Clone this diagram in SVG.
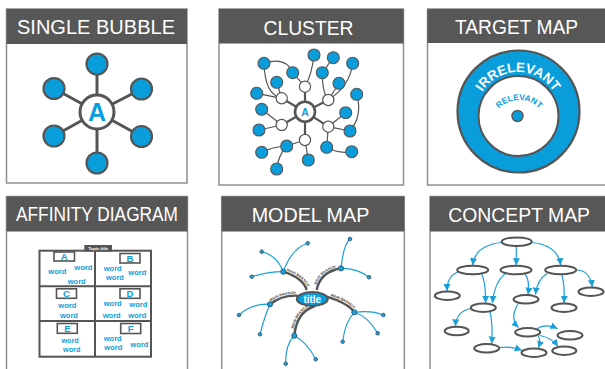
<svg xmlns="http://www.w3.org/2000/svg" width="605" height="369" viewBox="0 0 605 369">
<style>
.panel{fill:#fff;stroke:#8f8f8f;stroke-width:1.5}
.hdr{fill:#575757}
.htxt{font-family:"Liberation Sans",Arial,sans-serif;font-size:20px;fill:#fff}
.ln{stroke:#555;fill:none}
.blue{fill:#0a9ddb;stroke:#555}
.wht{fill:#fff;stroke:#555}
.word{font-family:"Liberation Sans",Arial,sans-serif;font-weight:bold;font-size:7.5px;fill:#0a9ddb;text-anchor:middle}
.lbox{fill:#fff;stroke:#555;stroke-width:1.6}
.let{font-family:"Liberation Sans",Arial,sans-serif;font-weight:bold;font-size:9.5px;fill:#0a9ddb;text-anchor:middle}
.sub{stroke:#1a9fd9;stroke-width:1.2;fill:none}
.dot{fill:#1a9fd9;stroke:#2b4f66;stroke-width:0.8}
.br{stroke:#555;stroke-width:2.4;fill:none}
.brl{font-family:"Liberation Sans",Arial,sans-serif;font-weight:bold;font-size:3.6px;fill:#444}
.ell{fill:#fff;stroke:#555;stroke-width:2}
.arr{stroke:#1a9fd9;stroke-width:1.2;fill:none;marker-end:url(#ah)}
</style>
<defs>
<marker id="ah" markerUnits="userSpaceOnUse" markerWidth="8" markerHeight="8" refX="7" refY="4" orient="auto"><path d="M0,0.5 L7,4 L0,7.5 Z" fill="#1a9fd9"/></marker>
<path id="arcIrr" d="M476,114 A42 42 0 0 1 560,114"/>
<path id="arcRel" d="M491,128 A28 28 0 0 1 547,128"/>
<path id="b1p" d="M283.3,271.7 Q303,278 306.7,290"/>
<path id="b2p" d="M316.7,290 Q320,272 341,268.3"/>
<path id="b3p" d="M270,304.3 Q281.7,295 297.7,295.7"/>
<path id="b4p" d="M326.7,296.7 Q348.3,303.3 354.3,312.3"/>
<path id="b5p" d="M294.3,335.7 Q296.7,311.7 315,306"/>
</defs>

<!-- Panel 1: Single bubble -->
<g id="panel-single-bubble">
<rect class="panel" x="6.5" y="9" width="180.5" height="174"/>
<rect class="hdr" x="6.5" y="9" width="180.5" height="35"/>
<text class="htxt" x="17" y="33.5" textLength="158" lengthAdjust="spacingAndGlyphs">SINGLE BUBBLE</text>
<g id="sb-connectors" class="ln" stroke-width="3">
<line x1="97" y1="112" x2="97" y2="64"/>
<line x1="97" y1="112" x2="97" y2="163"/>
<line x1="97" y1="112" x2="54" y2="88.5"/>
<line x1="97" y1="112" x2="141.5" y2="89"/>
<line x1="97" y1="112" x2="54" y2="136"/>
<line x1="97" y1="112" x2="141.5" y2="136.5"/>
</g>
<g id="sb-center"><circle class="wht" cx="97" cy="112" r="17" stroke-width="3"/>
<text x="97" y="121" font-family="Liberation Sans,Arial,sans-serif" font-weight="bold" font-size="25" fill="#0a9ddb" text-anchor="middle">A</text></g>
<g id="sb-outer" stroke-width="2.2">
<circle class="blue" cx="97" cy="64" r="10.5"/>
<circle class="blue" cx="97" cy="163" r="10.5"/>
<circle class="blue" cx="54" cy="88.5" r="10.5"/>
<circle class="blue" cx="141.5" cy="89" r="10.5"/>
<circle class="blue" cx="54" cy="136" r="10.5"/>
<circle class="blue" cx="141.5" cy="136.5" r="10.5"/>
</g>
</g>

<!-- Panel 2: Cluster -->
<g id="panel-cluster">
<rect class="panel" x="219" y="9" width="184.5" height="176"/>
<rect class="hdr" x="219" y="9" width="184.5" height="34.5"/>
<text class="htxt" x="263.5" y="35" textLength="90" lengthAdjust="spacingAndGlyphs">CLUSTER</text>
<g id="cl-connectors" class="ln">
<g stroke-width="2.2">
<line x1="305" y1="111.7" x2="305" y2="86.7"/>
<line x1="305" y1="111.7" x2="328.3" y2="100"/>
<line x1="305" y1="111.7" x2="328.3" y2="126.7"/>
<line x1="305" y1="111.7" x2="305" y2="140"/>
<line x1="305" y1="111.7" x2="281.7" y2="125"/>
<line x1="305" y1="111.7" x2="281.7" y2="98.3"/>
</g>
<g stroke-width="1.2">
<line x1="305" y1="86.7" x2="292.7" y2="72.7"/>
<path d="M305,86.7 Q312,74 314,55"/>
<path d="M264,63.3 Q265,95 281.7,98.3"/>
<path d="M264,63.3 Q286,56 292.7,72.7"/>
<line x1="281.7" y1="98.3" x2="276.7" y2="82.3"/>
<line x1="281.7" y1="98.3" x2="256.7" y2="93.3"/>
<line x1="322.3" y1="72.7" x2="333.3" y2="57.7"/>
<path d="M322.3,72.7 Q322,92 328.3,100"/>
<line x1="328.3" y1="100" x2="339" y2="83.3"/>
<path d="M352.7,63.3 Q350,86 328.3,100"/>
<path d="M356.7,94.3 Q363,115 350,131"/>
<line x1="328.3" y1="126.7" x2="345.7" y2="112.7"/>
<line x1="328.3" y1="126.7" x2="350" y2="131"/>
<line x1="328.3" y1="126.7" x2="326.7" y2="147.3"/>
<path d="M326.7,147.3 Q338,154 351.7,151.7"/>
<line x1="281.7" y1="125" x2="261.7" y2="109.3"/>
<line x1="281.7" y1="125" x2="259" y2="130"/>
<line x1="305" y1="140" x2="286.7" y2="146"/>
<line x1="305" y1="140" x2="308.3" y2="160"/>
<path d="M286.7,146 Q272,147 261.7,152.3"/>
<path d="M286.7,146 Q278,156 276.7,169"/>
</g>
</g>
<g id="cl-center"><circle class="wht" cx="305" cy="111.7" r="10" stroke-width="2.6"/>
<text x="305" y="115.5" font-family="Liberation Sans,Arial,sans-serif" font-weight="bold" font-size="10.5" fill="#0a9ddb" text-anchor="middle">A</text></g>
<g id="cl-sub" stroke-width="1.2">
<circle class="wht" cx="305" cy="86.7" r="5.6"/>
<circle class="wht" cx="328.3" cy="100" r="5.6"/>
<circle class="wht" cx="328.3" cy="126.7" r="5.6"/>
<circle class="wht" cx="305" cy="140" r="5.6"/>
<circle class="wht" cx="281.7" cy="125" r="5.6"/>
<circle class="wht" cx="281.7" cy="98.3" r="5.6"/>
</g>
<g id="cl-leaves" stroke-width="1.1">
<circle class="blue" cx="264" cy="63.3" r="6"/>
<circle class="blue" cx="292.7" cy="72.7" r="6"/>
<circle class="blue" cx="314" cy="55" r="6"/>
<circle class="blue" cx="333.3" cy="57.7" r="6"/>
<circle class="blue" cx="352.7" cy="63.3" r="6"/>
<circle class="blue" cx="322.3" cy="72.7" r="6"/>
<circle class="blue" cx="276.7" cy="82.3" r="6"/>
<circle class="blue" cx="339" cy="83.3" r="6"/>
<circle class="blue" cx="256.7" cy="93.3" r="6"/>
<circle class="blue" cx="356.7" cy="94.3" r="6"/>
<circle class="blue" cx="261.7" cy="109.3" r="6"/>
<circle class="blue" cx="345.7" cy="112.7" r="6"/>
<circle class="blue" cx="259" cy="130" r="6"/>
<circle class="blue" cx="350" cy="131" r="6"/>
<circle class="blue" cx="286.7" cy="146" r="6"/>
<circle class="blue" cx="326.7" cy="147.3" r="6"/>
<circle class="blue" cx="261.7" cy="152.3" r="6"/>
<circle class="blue" cx="308.3" cy="160" r="6"/>
<circle class="blue" cx="351.7" cy="151.7" r="6"/>
<circle class="blue" cx="276.7" cy="169" r="6"/>
</g>
</g>

<!-- Panel 3: Target map -->
<g id="panel-target-map">
<rect class="panel" x="427.5" y="9" width="200" height="176"/>
<rect class="hdr" x="427.5" y="9" width="200" height="34"/>
<text class="htxt" x="455" y="33.5" textLength="123" lengthAdjust="spacingAndGlyphs">TARGET MAP</text>
<g id="tm-outer"><circle cx="518.5" cy="111.5" r="61" fill="#0a9ddb" stroke="#555" stroke-width="2.2"/></g>
<g id="tm-inner"><circle cx="518.5" cy="116" r="40" fill="#fff" stroke="#555" stroke-width="2"/></g>
<text font-family="Liberation Sans,Arial,sans-serif" font-weight="bold" font-size="13.5" fill="#fff"><textPath href="#arcIrr" startOffset="50%" text-anchor="middle">IRRELEVANT</textPath></text>
<text font-family="Liberation Sans,Arial,sans-serif" font-weight="bold" font-size="8.5" fill="#0a9ddb"><textPath href="#arcRel" startOffset="50%" text-anchor="middle">RELEVANT</textPath></text>
<g id="tm-center"><circle cx="517.5" cy="116" r="5.5" fill="#0a9ddb" stroke="#555" stroke-width="1.4"/></g>
</g>

<!-- Panel 4: Affinity diagram -->
<g id="panel-affinity">
<rect class="panel" x="6.5" y="196.5" width="181" height="185"/>
<rect class="hdr" x="6.5" y="196.5" width="181" height="35"/>
<text class="htxt" x="16" y="220.7" textLength="162" lengthAdjust="spacingAndGlyphs">AFFINITY DIAGRAM</text>
<g id="af-grid" class="ln" stroke-width="2">
<rect x="39.5" y="250.7" width="111.5" height="106"/>
<line x1="95" y1="250.7" x2="95" y2="356.7"/>
<line x1="39.5" y1="286.3" x2="151" y2="286.3"/>
<line x1="39.5" y1="321" x2="151" y2="321"/>
</g>
<g id="af-topic"><rect x="84.3" y="245" width="27.7" height="6.5" fill="#555"/>
<text x="98.2" y="249.9" font-family="Liberation Sans,Arial,sans-serif" font-weight="bold" font-size="4.3" fill="#fff" text-anchor="middle">Topic title</text></g>
<g id="af-A"><rect class="lbox" x="54" y="252" width="20.5" height="9"/><text class="let" x="64.2" y="259.9">A</text>
<text class="word" x="57.3" y="274.2">word</text><text class="word" x="83.3" y="269.8">word</text><text class="word" x="76.7" y="283.5">word</text></g>
<g id="af-B"><rect class="lbox" x="120" y="253.5" width="20" height="9.5"/><text class="let" x="130" y="261.6">B</text>
<text class="word" x="112.7" y="270.8">word</text><text class="word" x="115" y="279.8">word</text><text class="word" x="137.3" y="274.8">word</text></g>
<g id="af-C"><rect class="lbox" x="56.5" y="288.8" width="20" height="9.5"/><text class="let" x="66.5" y="296.9">C</text>
<text class="word" x="67.3" y="307.5">word</text><text class="word" x="69" y="317.8">word</text></g>
<g id="af-D"><rect class="lbox" x="120" y="288.8" width="20" height="9.5"/><text class="let" x="130" y="296.9">D</text>
<text class="word" x="112.7" y="305.8">word</text><text class="word" x="138.3" y="306.8">word</text><text class="word" x="111.7" y="317.8">word</text><text class="word" x="137.3" y="317.8">word</text></g>
<g id="af-E"><rect class="lbox" x="57.3" y="323.5" width="20" height="9.8"/><text class="let" x="67.3" y="331.8">E</text>
<text class="word" x="70" y="343" style="font-size:7.2px">word</text><text class="word" x="71.7" y="351.8" style="font-size:7.2px">word</text></g>
<g id="af-F"><rect class="lbox" x="120.7" y="323.5" width="20" height="10"/><text class="let" x="130.7" y="331.9">F</text>
<text class="word" x="112.7" y="341.3">word</text><text class="word" x="113.3" y="350">word</text><text class="word" x="139.3" y="346.8">word</text></g>
</g>

<!-- Panel 5: Model map -->
<g id="panel-model-map">
<rect class="panel" x="221.7" y="196.5" width="182.6" height="185"/>
<rect class="hdr" x="221.7" y="196.5" width="182.6" height="35"/>
<text class="htxt" x="251.7" y="222.3" textLength="117.6" lengthAdjust="spacingAndGlyphs">MODEL MAP</text>
<g id="mm-connectors">
<g class="sub">
<path d="M283.3,271.7 Q276.7,255 261.7,251.7"/>
<path d="M283.3,271.7 Q291.7,248.3 307.7,243.3"/>
<path d="M283.3,271.7 Q268.3,271.7 251.7,276.7"/>
<path d="M341,268.3 Q343.3,245 350,239"/>
<path d="M341,268.3 Q358.3,268.3 369,277.3"/>
<path d="M270,304.3 Q251.7,303.3 239,315"/>
<path d="M270,304.3 Q265,315 260,334.3"/>
<path d="M354.3,312.3 Q371.7,310 383.3,315"/>
<path d="M354.3,312.3 Q368.3,316.7 377.7,333.3"/>
<path d="M354.3,312.3 Q345,321.7 342.7,341.7"/>
<path d="M294.3,335.7 Q285,345 285.7,363.7"/>
<path d="M294.3,335.7 Q306.7,341.7 315.7,359.3"/>
</g>
<use href="#b1p" class="br"/>
<use href="#b2p" class="br"/>
<use href="#b3p" class="br"/>
<use href="#b4p" class="br"/>
<use href="#b5p" class="br"/>
<text class="brl" dy="-1.8"><textPath href="#b1p" startOffset="50%" text-anchor="middle">MAIN BRANCH</textPath></text>
<text class="brl" dy="-1.8"><textPath href="#b2p" startOffset="50%" text-anchor="middle">MAIN BRANCH</textPath></text>
<text class="brl" dy="-1.8"><textPath href="#b3p" startOffset="50%" text-anchor="middle">MAIN BRANCH</textPath></text>
<text class="brl" dy="-1.8"><textPath href="#b4p" startOffset="50%" text-anchor="middle">MAIN BRANCH</textPath></text>
<text class="brl" dy="-1.8"><textPath href="#b5p" startOffset="50%" text-anchor="middle">MAIN BRANCH</textPath></text>
</g>
<g id="mm-title"><ellipse cx="312.3" cy="299" rx="15.5" ry="7" fill="#0a9ddb" stroke="#555" stroke-width="2"/>
<text x="312.3" y="302.6" font-family="Liberation Sans,Arial,sans-serif" font-weight="bold" font-size="10" fill="#fff" text-anchor="middle">title</text></g>
<g id="mm-nodes">
<circle class="dot" cx="283.3" cy="271.7" r="2.6"/>
<circle class="dot" cx="341" cy="268.3" r="2.6"/>
<circle class="dot" cx="270" cy="304.3" r="2.6"/>
<circle class="dot" cx="354.3" cy="312.3" r="2.6"/>
<circle class="dot" cx="294.3" cy="335.7" r="2.6"/>
<circle class="dot" cx="261.7" cy="251.7" r="1.8"/>
<circle class="dot" cx="307.7" cy="243.3" r="1.8"/>
<circle class="dot" cx="251.7" cy="276.7" r="1.8"/>
<circle class="dot" cx="350" cy="239" r="1.8"/>
<circle class="dot" cx="369" cy="277.3" r="1.8"/>
<circle class="dot" cx="239" cy="315" r="1.8"/>
<circle class="dot" cx="260" cy="334.3" r="1.8"/>
<circle class="dot" cx="383.3" cy="315" r="1.8"/>
<circle class="dot" cx="377.7" cy="333.3" r="1.8"/>
<circle class="dot" cx="342.7" cy="341.7" r="1.8"/>
<circle class="dot" cx="285.7" cy="363.7" r="1.8"/>
<circle class="dot" cx="315.7" cy="359.3" r="1.8"/>
</g>
</g>

<!-- Panel 6: Concept map -->
<g id="panel-concept-map">
<rect class="panel" x="430" y="196.5" width="190" height="185"/>
<rect class="hdr" x="430" y="196.5" width="190" height="35"/>
<text class="htxt" x="448.3" y="221.7" textLength="141.7" lengthAdjust="spacingAndGlyphs">CONCEPT MAP</text>
<g id="cm-connectors">
<path class="arr" d="M501.7,242.5 Q475,245 472.7,265.2"/>
<path class="arr" d="M516.3,246 L516.3,265.2"/>
<path class="arr" d="M531.7,242.5 Q558,245 560.7,265.2"/>
<path class="arr" d="M458,272 Q447,276 447,290.9"/>
<path class="arr" d="M481.7,274.2 Q486,283 485.5,303"/>
<path class="arr" d="M505,273.6 Q494,283 492.5,303"/>
<path class="arr" d="M525,274 Q530,280 528,294.6"/>
<path class="arr" d="M547,273.6 Q537,280 535.5,294.6"/>
<path class="arr" d="M561.7,274.3 Q565,285 564,303"/>
<path class="arr" d="M576,270 Q590,270 592.3,287"/>
<path class="arr" d="M471.7,308.5 Q456,311 455.5,326.3"/>
<path class="arr" d="M490,311.5 Q493,325 491.7,343.6"/>
<path class="arr" d="M518.5,303 Q509,318 518.5,327.6"/>
<path class="arr" d="M536.7,329.3 Q545,323 557.5,328.5"/>
<path class="arr" d="M538.3,336 Q541,340 538.5,348"/>
<path class="arr" d="M540,335.5 Q552,338 558,346.5"/>
<path class="arr" d="M499,347.5 Q510,346 521.8,350.2"/>
</g>
<g id="cm-nodes">
<ellipse class="ell" cx="516.7" cy="241.7" rx="15" ry="4.3"/>
<ellipse class="ell" cx="472.7" cy="270" rx="15.5" ry="4.3"/>
<ellipse class="ell" cx="516" cy="270" rx="15.5" ry="4.3"/>
<ellipse class="ell" cx="560.7" cy="270" rx="15.5" ry="4.3"/>
<ellipse class="ell" cx="447.3" cy="295.7" rx="12.5" ry="4.2"/>
<ellipse class="ell" cx="591" cy="291.7" rx="12.5" ry="4.2"/>
<ellipse class="ell" cx="483.3" cy="307.7" rx="12.5" ry="4.2"/>
<ellipse class="ell" cx="526" cy="299.3" rx="12.5" ry="4.2"/>
<ellipse class="ell" cx="564" cy="307.7" rx="12.5" ry="4.2"/>
<ellipse class="ell" cx="456.7" cy="331" rx="12" ry="4.2"/>
<ellipse class="ell" cx="527.7" cy="332.3" rx="12.5" ry="4.2"/>
<ellipse class="ell" cx="570" cy="335.3" rx="12.5" ry="4.2"/>
<ellipse class="ell" cx="486.7" cy="348.3" rx="12.5" ry="4.2"/>
<ellipse class="ell" cx="534" cy="352.7" rx="12.5" ry="4.2"/>
<ellipse class="ell" cx="564.3" cy="350.7" rx="12" ry="4.2"/>
</g>
</g>
</svg>
